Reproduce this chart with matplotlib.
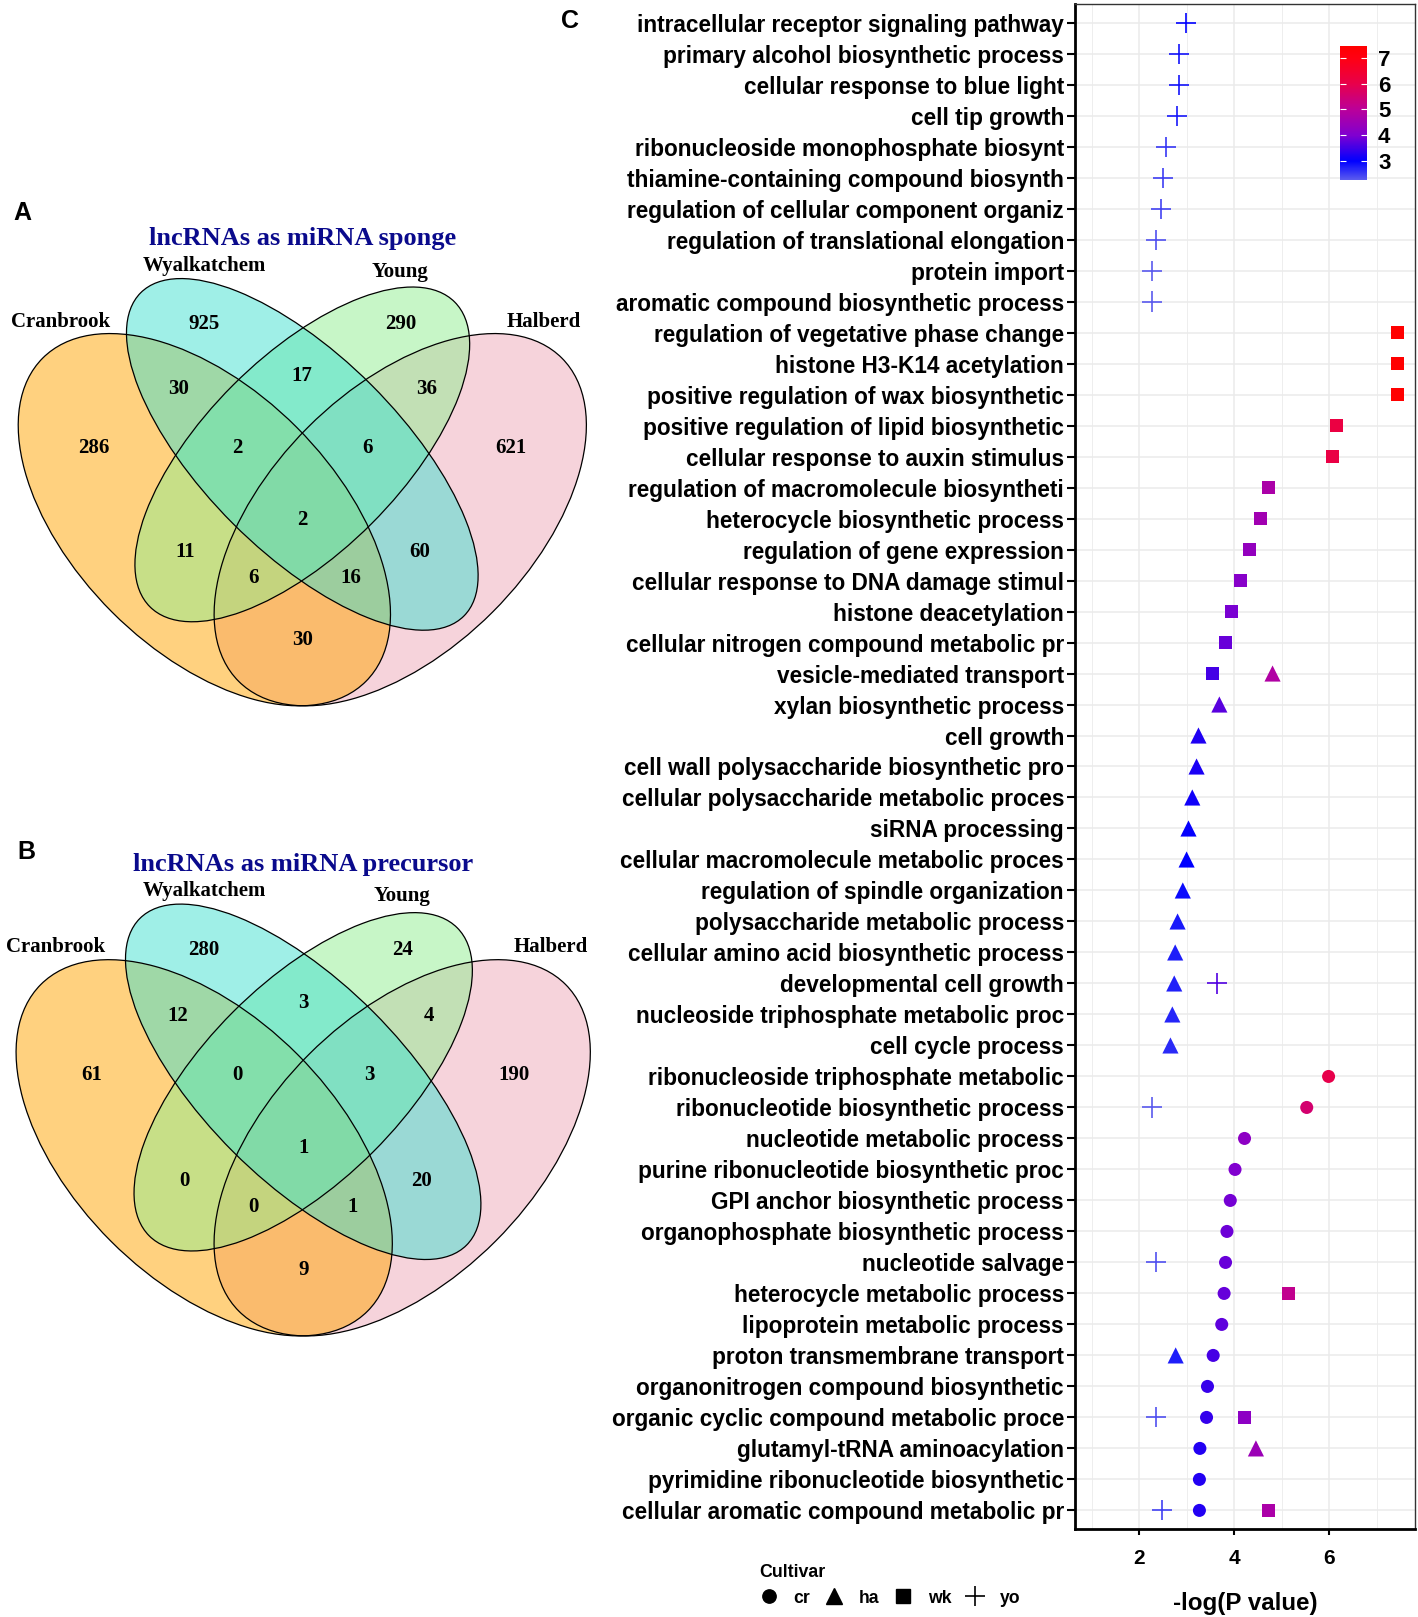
import matplotlib
matplotlib.use("Agg")
import matplotlib.pyplot as plt
from matplotlib.patches import Ellipse
from matplotlib.colors import LinearSegmentedColormap, Normalize
from matplotlib.cm import ScalarMappable
from matplotlib.lines import Line2D

# ---------------- data ----------------
terms = [
    "intracellular receptor signaling pathway",
    "primary alcohol biosynthetic process",
    "cellular response to blue light",
    "cell tip growth",
    "ribonucleoside monophosphate biosynt",
    "thiamine-containing compound biosynth",
    "regulation of cellular component organiz",
    "regulation of translational elongation",
    "protein import",
    "aromatic compound biosynthetic process",
    "regulation of vegetative phase change",
    "histone H3-K14 acetylation",
    "positive regulation of wax biosynthetic",
    "positive regulation of lipid biosynthetic",
    "cellular response to auxin stimulus",
    "regulation of macromolecule biosyntheti",
    "heterocycle biosynthetic process",
    "regulation of gene expression",
    "cellular response to DNA damage stimul",
    "histone deacetylation",
    "cellular nitrogen compound metabolic pr",
    "vesicle-mediated transport",
    "xylan biosynthetic process",
    "cell growth",
    "cell wall polysaccharide biosynthetic pro",
    "cellular polysaccharide metabolic proces",
    "siRNA processing",
    "cellular macromolecule metabolic proces",
    "regulation of spindle organization",
    "polysaccharide metabolic process",
    "cellular amino acid biosynthetic process",
    "developmental cell growth",
    "nucleoside triphosphate metabolic proc",
    "cell cycle process",
    "ribonucleoside triphosphate metabolic",
    "ribonucleotide biosynthetic process",
    "nucleotide metabolic process",
    "purine ribonucleotide biosynthetic proc",
    "GPI anchor biosynthetic process",
    "organophosphate biosynthetic process",
    "nucleotide salvage",
    "heterocycle metabolic process",
    "lipoprotein metabolic process",
    "proton transmembrane transport",
    "organonitrogen compound biosynthetic",
    "organic cyclic compound metabolic proce",
    "glutamyl-tRNA aminoacylation",
    "pyrimidine ribonucleotide biosynthetic",
    "cellular aromatic compound metabolic pr",
]

yo_terms = terms[0:10] + ["developmental cell growth", "ribonucleotide biosynthetic process",
                          "nucleotide salvage", "organic cyclic compound metabolic proce",
                          "cellular aromatic compound metabolic pr"]
yo_vals = [2.99, 2.84, 2.84, 2.80, 2.57, 2.51, 2.46, 2.36, 2.27, 2.27, 3.64, 2.28, 2.36, 2.36, 2.48]

wk_terms = terms[10:22] + ["heterocycle metabolic process", "organic cyclic compound metabolic proce",
                           "cellular aromatic compound metabolic pr"]
wk_vals = [7.45, 7.45, 7.45, 6.15, 6.08, 4.72, 4.56, 4.32, 4.13, 3.95, 3.82, 3.54, 5.14, 4.22, 4.72]

ha_terms = terms[21:34] + ["proton transmembrane transport", "glutamyl-tRNA aminoacylation"]
ha_vals = [4.81, 3.69, 3.25, 3.21, 3.12, 3.04, 3.00, 2.92, 2.81, 2.76, 2.74, 2.70, 2.66, 2.77, 4.46]

cr_terms = terms[34:49]
cr_vals = [5.99, 5.53, 4.22, 4.02, 3.92, 3.85, 3.82, 3.79, 3.74, 3.56, 3.44, 3.42, 3.28, 3.27, 3.27]

venn_sets = ["Cranbrook", "Wyalkatchem", "Young", "Halberd"]
sponge_counts = [925, 290, 17, 30, 36, 286, 2, 6, 621, 2, 11, 60, 6, 16, 30]
precursor_counts = [280, 24, 3, 12, 4, 61, 0, 3, 190, 1, 0, 20, 0, 1, 9]

# ---------------- figure ----------------
W, H, DPI = 1418, 1617, 100
fig = plt.figure(figsize=(W / DPI, H / DPI), dpi=DPI)
SANS = ["Liberation Sans", "DejaVu Sans"]
SERIF = ["Liberation Serif", "DejaVu Serif"]


def fx(x):
    return x / W


def fy(y):
    return 1 - y / H


# ---------------- Venn diagrams ----------------
region_xy = [(0.35, 0.77), (0.65, 0.77), (0.50, 0.69), (0.31, 0.67), (0.69, 0.67),
             (0.18, 0.58), (0.40, 0.58), (0.60, 0.58), (0.82, 0.58), (0.50, 0.47),
             (0.32, 0.42), (0.68, 0.42), (0.425, 0.38), (0.575, 0.38), (0.50, 0.285)]
# drawing order: Halberd, Cranbrook, Young, Wyalkatchem
ell_specs = {
    "Halberd": ((0.65, 0.47), 0.35, 0.20, 45, "#EEA9B8"),
    "Cranbrook": ((0.35, 0.47), 0.35, 0.20, 135, "#FFA500"),
    "Young": ((0.50, 0.57), 0.33, 0.15, 45, "#90EE90"),
    "Wyalkatchem": ((0.50, 0.57), 0.35, 0.15, 135, "#40E0D0"),
}
draw_order = ["Halberd", "Cranbrook", "Young", "Wyalkatchem"]


def venn(rect_px, counts, title, cat_pos):
    x0, y0, unit = rect_px
    ax = fig.add_axes([fx(x0), fy(y0 + unit), unit / W, unit / H])
    ax.set_xlim(0, 1)
    ax.set_ylim(0, 1)
    ax.axis("off")
    for name in draw_order:
        c, a, b, ang, col = ell_specs[name]
        ax.add_patch(Ellipse(c, 2 * a, 2 * b, angle=ang, facecolor=col, alpha=0.5,
                             edgecolor="none", zorder=1))
    for name in draw_order:
        c, a, b, ang, col = ell_specs[name]
        ax.add_patch(Ellipse(c, 2 * a, 2 * b, angle=ang, facecolor="none",
                             edgecolor="black", lw=0.9, zorder=2))
    for (x, y), n in zip(region_xy, counts):
        ax.text(x, y, str(n), ha="center", va="center", fontsize=15,
                fontweight="bold", family=SERIF, zorder=3)
    for name, (x, y) in zip(venn_sets, cat_pos):
        ax.text(x, y, name, ha="center", va="center", fontsize=15,
                fontweight="bold", family=SERIF, zorder=3)
    ax.text(0.5, 0.90, title, ha="center", va="center", fontsize=19,
            fontweight="bold", family=SERIF, color="#0a0a8c", zorder=3)
    return ax


venn((-24.2, 173.6, 653), sponge_counts, "lncRNAs as miRNA sponge",
     [(0.130, 0.773), (0.35, 0.858), (0.65, 0.849), (0.870, 0.773)])
venn((-26.8, 798, 660), precursor_counts, "lncRNAs as miRNA precursor",
     [(0.125, 0.775), (0.35, 0.859), (0.65, 0.852), (0.875, 0.775)])

fig.text(fx(22.7), fy(213), "A", ha="center", va="center", fontsize=18,
         fontweight="bold", family=SANS)
fig.text(fx(26.8), fy(852), "B", ha="center", va="center", fontsize=18,
         fontweight="bold", family=SANS)
fig.text(fx(570), fy(21), "C", ha="center", va="center", fontsize=18,
         fontweight="bold", family=SANS)

# ---------------- dot plot ----------------
all_vals = yo_vals + wk_vals + ha_vals + cr_vals
vmin, vmax = min(all_vals), max(all_vals)
stops = [(2.27, "#5a5aee"), (3.0, "#0000ff"), (4.0, "#8000d0"), (5.0, "#bb0099"),
         (6.0, "#e8004a"), (7.0, "#ff0012"), (7.45, "#ff0000")]
cmap = LinearSegmentedColormap.from_list(
    "gp", [((v - vmin) / (vmax - vmin), c) for v, c in stops])
norm = Normalize(vmin, vmax)

ax = fig.add_axes([fx(1075), fy(1529), 340 / W, 1525 / H])
pos = {t: i for i, t in enumerate(terms)}

series = [
    (cr_terms, cr_vals, "o", 88, 0),
    (ha_terms, ha_vals, "^", 135, 0),
    (wk_terms, wk_vals, "s", 88, 0),
    (yo_terms, yo_vals, "+", 210, 1.2),
]
for tt, vv, mk, s, lw in series:
    ax.scatter(vv, [pos[t] for t in tt], c=vv, cmap=cmap, norm=norm, marker=mk,
               s=s, linewidths=lw, zorder=3)

ax.set_ylim(48.6, -0.6)
ax.set_xlim(0.65, 7.81)
ax.set_yticks(range(len(terms)))
ax.set_yticklabels(terms, fontsize=16.3, fontweight="bold", family=SANS)
ax.set_xticks([2, 4, 6])
ax.set_xticks([1, 3, 5, 7], minor=True)
ax.set_xticklabels(["2", "4", "6"], fontsize=15, fontweight="bold", family=SANS)
ax.tick_params(axis="y", length=6, width=1.5, pad=2)
ax.tick_params(axis="x", which="major", length=4.5, width=1.5, pad=10)
ax.tick_params(axis="x", which="minor", length=0)
ax.grid(True, which="major", color="#EBEBEB", lw=1.1, zorder=0)
ax.grid(True, which="minor", axis="x", color="#EBEBEB", lw=0.6, zorder=0)
ax.set_axisbelow(True)
for side in ["left", "bottom"]:
    ax.spines[side].set_linewidth(2.0)
    ax.spines[side].set_color("black")
for side in ["top", "right"]:
    ax.spines[side].set_linewidth(1.0)
    ax.spines[side].set_color("#333333")
ax.set_xlabel("-log(P value)", fontsize=17.4, fontweight="bold", family=SANS, labelpad=17)

# colorbar
cax = fig.add_axes([fx(1340), fy(180), 27 / W, 134 / H])
cb = fig.colorbar(ScalarMappable(norm=norm, cmap=cmap), cax=cax, ticks=[3, 4, 5, 6, 7])
cb.outline.set_visible(False)
cax.tick_params(direction="in", color="white", length=4, width=0.8, left=True, right=True,
                labelsize=16, pad=8)
for lab in cax.get_yticklabels():
    lab.set_fontweight("bold")
    lab.set_family(SANS)

# legend
handles = [
    Line2D([], [], marker="o", color="black", linestyle="none", markersize=9.6),
    Line2D([], [], marker="^", color="black", linestyle="none", markersize=11.5),
    Line2D([], [], marker="s", color="black", linestyle="none", markersize=9.6),
    Line2D([], [], marker="+", color="black", linestyle="none", markersize=14.4, markeredgewidth=1.2),
]
leg = fig.legend(handles, ["cr", "ha", "wk", "yo"], ncol=4, frameon=False,
                 loc="upper left", bbox_to_anchor=(fx(750), fy(1555)),
                 title="Cultivar", alignment="left", borderpad=0,
                 handlelength=1.2, handletextpad=0.78, columnspacing=0.76,
                 prop={"family": SANS, "weight": "bold", "size": 12.7},
                 title_fontproperties={"family": SANS, "weight": "bold", "size": 12.8})

fig.savefig("out.png", dpi=DPI)
